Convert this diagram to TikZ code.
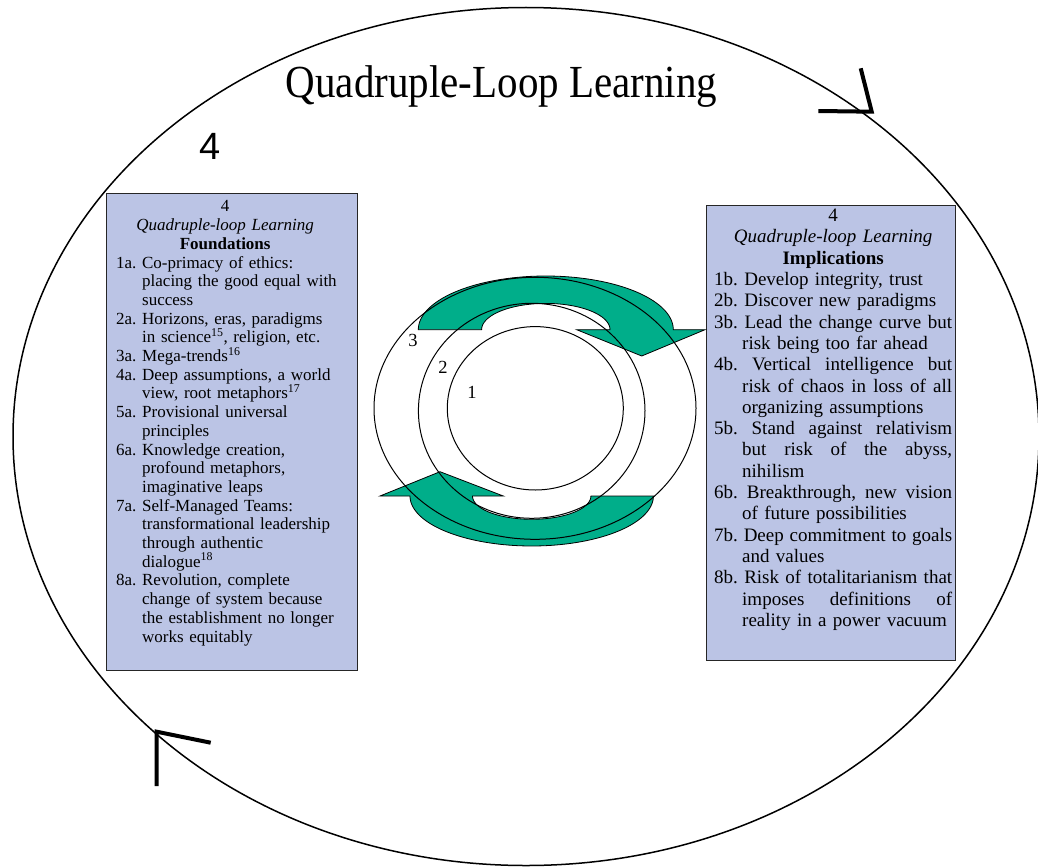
\documentclass[tikz,border=0pt]{standalone}
\usepackage{graphicx}
\usepackage{fontspec}
\setmainfont{Liberation Serif}
\newfontfamily\sansf{Liberation Sans}
\usetikzlibrary{shapes.geometric}
\definecolor{loopgreen}{RGB}{0,174,138}
\definecolor{boxblue}{RGB}{187,196,229}
\frenchspacing
\newcommand\rfull[1]{\leavevmode\hbox to 238pt{\spaceskip=0.25em plus 1fil minus 0.1em\relax #1}}
\newcommand\rjust[1]{\leavevmode\hspace*{28pt}\hbox to 210pt{\spaceskip=0.25em plus 1fil minus 0.1em\relax #1}}
\newcommand\rcont[1]{\leavevmode\hspace*{28pt}#1}
\newcommand\lcont[1]{\leavevmode\hspace*{26pt}#1}
\begin{document}
\begin{tikzpicture}[x=1pt,y=-1pt,
  ring/.style={draw=black, ellipse, line width=1pt, inner sep=0pt, outer sep=0pt},
  bigring/.style={draw=black, ellipse, line width=1.5pt, inner sep=0pt, outer sep=0pt},
  band/.style={fill=loopgreen, draw=black, line width=0.8pt, line join=miter},
  panel/.style={draw=black!85, line width=1.2pt, fill=boxblue, inner sep=0pt, anchor=north west},
  ltext/.style={font=\fontsize{17}{18.7}\selectfont, inner sep=0pt, anchor=north west, text width=240pt, align=left},
  rtext/.style={font=\fontsize{19}{21.3}\selectfont, inner sep=0pt, anchor=north west, text width=260pt, align=left},
  chevron/.style={line width=4pt, line cap=butt, line join=miter},
  numlabel/.style={font=\fontsize{18.5}{20}\selectfont, inner sep=0pt},
  titletext/.style={font=\fontsize{41}{45}\selectfont, inner sep=0pt, anchor=base},
  bigfour/.style={font=\sansf\fontsize{38}{42}\selectfont, inner sep=0pt}
]
\useasboundingbox (0,0) rectangle (1038,867);
\fill[white] (0,0) rectangle (1038,867);

% outer loop
\node[bigring, minimum width=1026pt, minimum height=858pt] (big) at (526,436.5) {};
\coordinate (trA) at (818.3,111);
\coordinate (trC) at (871.7,111.7);
\coordinate (trB) at (860.7,68.3);
\draw[chevron] (trA) -- (trC) -- (trB);
\coordinate (blA) at (156.7,786);
\coordinate (blC) at (156.7,731.7);
\coordinate (blB) at (210.7,742.7);
\draw[chevron] (blA) -- (blC) -- (blB);

\node[titletext] (title) at (501.5,97.7) {\scalebox{1}[1.12]{Quadruple-Loop Learning}};
\node[bigfour] (four) at (210.5,146.5) {4};

% panels
\node[panel, minimum width=251pt, minimum height=477pt] (lpanel) at (106,193) {};
\node[panel, minimum width=249pt, minimum height=455pt] (rpanel) at (706,205) {};

\node[ltext] (ltxt) at (116,197.7) {\rule{0pt}{14pt}\makebox[218pt]{4}\\
\makebox[218pt]{\itshape Quadruple-loop Learning}\\
\makebox[218pt]{\bfseries Foundations}\\
1a. Co-primacy of ethics:\\
\lcont{placing the good equal with}\\
\lcont{success}\\
2a. Horizons, eras, paradigms\\
\lcont{in science\textsuperscript{15}, religion, etc.}\\
3a. Mega-trends\textsuperscript{16}\\
4a. Deep assumptions, a world\\
\lcont{view, root metaphors\textsuperscript{17}}\\
5a. Provisional universal\\
\lcont{principles}\\
6a. Knowledge creation,\\
\lcont{profound metaphors,}\\
\lcont{imaginative leaps}\\
7a. Self-Managed Teams:\\
\lcont{transformational leadership}\\
\lcont{through authentic}\\
\lcont{dialogue\textsuperscript{18}}\\
8a. Revolution, complete\\
\lcont{change of system because}\\
\lcont{the establishment no longer}\\
\lcont{works equitably}};

\node[rtext] (rtxt) at (714,205.4) {\rule{0pt}{16pt}\makebox[238pt]{4}\\
\makebox[238pt]{\itshape Quadruple-loop Learning}\\
\makebox[238pt]{\bfseries Implications}\\
1b. Develop integrity, trust\\
2b. Discover new paradigms\\
\rfull{3b. Lead the change curve but}\\
\rcont{risk being too far ahead}\\
\rfull{4b. Vertical intelligence but}\\
\rjust{risk of chaos in loss of all}\\
\rcont{organizing assumptions}\\
\rfull{5b. Stand against relativism}\\
\rjust{but risk of the abyss,}\\
\rcont{nihilism}\\
\rfull{6b. Breakthrough, new vision}\\
\rcont{of future possibilities}\\
\rfull{7b. Deep commitment to goals}\\
\rcont{and values}\\
\rfull{8b. Risk of totalitarianism that}\\
\rjust{imposes definitions of}\\
\rcont{reality in a power vacuum}};

% green loop arrows
\draw[band] plot[domain=180:360, samples=90] ({545.8+127.5*cos(\x)},{329.7+53.7*sin(\x)})
  -- (705,329.7) -- (641.7,356) -- (576.7,329.7)
  -- plot[domain=360:180, samples=90] ({545.8+64.2*cos(\x)},{329.7+26.3*sin(\x)}) -- cycle;
\draw[band] plot[domain=0:180, samples=90] ({531.7+121.7*cos(\x)},{496+50*sin(\x)})
  -- (380,496) -- (440,471.7) -- (503.3,496)
  -- plot[domain=180:0, samples=90] ({531.7+59.2*cos(\x)},{496+23.3*sin(\x)}) -- cycle;

% loops 3, 2, 1
\node[ring, minimum width=322pt, minimum height=262pt] (r3) at (535,408.3) {};
\node[ring, minimum width=226.6pt, minimum height=215pt] (r2) at (531.7,410.8) {};
\node[ring, minimum width=176pt, minimum height=163.4pt] (r1) at (535.3,408.3) {};
\node[numlabel] (l3) at (413,340) {3};
\node[numlabel] (l2) at (443,367) {2};
\node[numlabel] (l1) at (472,392) {1};
\end{tikzpicture}
\end{document}
